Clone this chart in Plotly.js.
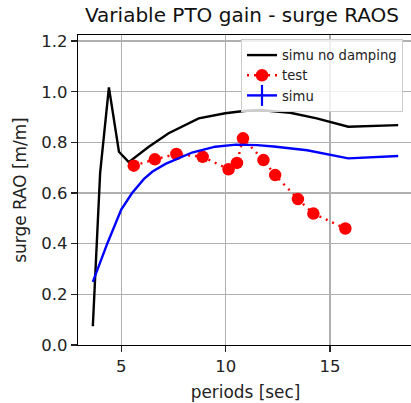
<!DOCTYPE html>
<html>
<head>
<meta charset="utf-8">
<script src="https://cdn.plot.ly/plotly-3.0.1.min.js"></script>
<style>
  html, body { margin: 0; padding: 0; overflow: hidden; background: #fff; }
  #chart { width: 416px; height: 403px; }
</style>
</head>
<body>
<div id="chart"></div>
<script>
// ---- data ----
const periodsNoDamp = [3.64, 3.99, 4.41, 4.89, 5.36, 6.32, 7.27, 8.71, 9.98, 10.86, 11.66, 13.09, 14.36, 15.87, 18.26];
const raoNoDamp     = [0.074, 0.68, 1.017, 0.763, 0.722, 0.783, 0.836, 0.895, 0.915, 0.924, 0.928, 0.917, 0.895, 0.862, 0.868];

const periodsTest = [5.60, 6.61, 7.64, 8.90, 10.14, 10.54, 10.83, 11.81, 12.37, 13.46, 14.20, 15.73];
const raoTest     = [0.708, 0.733, 0.754, 0.743, 0.694, 0.719, 0.816, 0.730, 0.671, 0.576, 0.519, 0.460];

const periodsSimu = [3.64, 4.00, 4.33, 5.00, 5.52, 6.08, 6.50, 7.12, 8.39, 9.50, 10.50, 11.50, 12.30, 13.90, 15.87, 18.26];
const raoSimu     = [0.249, 0.33, 0.40, 0.535, 0.60, 0.655, 0.685, 0.715, 0.760, 0.783, 0.791, 0.789, 0.784, 0.769, 0.737, 0.746];

const xTickVals = [5, 10, 15];
const yTickVals = [0.0, 0.2, 0.4, 0.6, 0.8, 1.0, 1.2];

const labels = {
  title: 'Variable PTO gain - surge RAOS',
  x: 'periods [sec]',
  y: 'surge RAO [m/m]',
  noDamp: 'simu no damping',
  test: 'test',
  simu: 'simu'
};

const FONT = 'DejaVu Sans, Liberation Sans, sans-serif';
const LW = 2.4;

const traces = [
  {
    x: periodsNoDamp, y: raoNoDamp, name: labels.noDamp,
    type: 'scatter', mode: 'lines',
    line: { color: '#000000', width: LW }
  },
  {
    x: periodsTest, y: raoTest, name: labels.test,
    type: 'scatter', mode: 'lines+markers',
    line: { color: '#ff0000', width: LW, dash: '2px,5px' },
    marker: { color: '#ff0000', size: 12.5, symbol: 'circle' }
  },
  {
    x: periodsSimu, y: raoSimu, name: labels.simu,
    type: 'scatter', mode: 'lines',
    line: { color: '#0000ff', width: LW },
    showlegend: false, legendgroup: 'simu'
  },
  // legend entry for the errorbar-style "simu" handle (line with a '+' cap)
  {
    x: [null], y: [null], name: labels.simu,
    type: 'scatter', mode: 'lines+markers', legendgroup: 'simu',
    line: { color: '#0000ff', width: LW },
    marker: { color: '#0000ff', size: 15, symbol: 'line-ns-open', line: { color: '#0000ff', width: 2.2 } },
    hoverinfo: 'skip'
  }
];

const axisCommon = {
  showgrid: true, gridcolor: '#b0b0b0', gridwidth: 1.3,
  showline: true, mirror: true, linecolor: '#000000', linewidth: 1.3,
  ticks: 'outside', ticklen: 6, tickwidth: 1.3, tickcolor: '#222',
  zeroline: false,
  tickfont: { family: FONT, size: 16.5, color: '#222' }
};

const layout = {
  width: 416, height: 403,
  margin: { l: 78, r: 3, t: 35, b: 58 },
  paper_bgcolor: '#ffffff', plot_bgcolor: '#ffffff',
  font: { family: FONT, color: '#222' },
  title: {
    text: labels.title,
    font: { family: FONT, size: 20, color: '#111' },
    xref: 'container', yref: 'container',
    x: 242 / 416, xanchor: 'center',
    y: 1 - 15 / 403, yanchor: 'middle'
  },
  xaxis: Object.assign({}, axisCommon, {
    range: [2.93, 18.97],
    tickmode: 'array', tickvals: xTickVals, ticktext: xTickVals.map(String),
    title: { text: labels.x, font: { family: FONT, size: 16.9, color: '#222' }, standoff: 11 }
  }),
  yaxis: Object.assign({}, axisCommon, {
    range: [0, 1.224],
    tickmode: 'array', tickvals: yTickVals, ticktext: yTickVals.map(v => v.toFixed(1)),
    title: { text: labels.y, font: { family: FONT, size: 16.9, color: '#222' }, standoff: 10 }
  }),
  showlegend: true,
  legend: {
    x: (241 - 78) / 335, xanchor: 'left',
    y: (345 - 39) / 310, yanchor: 'top',
    bgcolor: 'rgba(255,255,255,0.8)',
    bordercolor: '#cccccc', borderwidth: 1,
    font: { family: FONT, size: 13.2, color: '#222' },
    traceorder: 'normal'
  }
};

Plotly.newPlot('chart', traces, layout, { displayModeBar: false, staticPlot: true });
</script>
</body>
</html>
